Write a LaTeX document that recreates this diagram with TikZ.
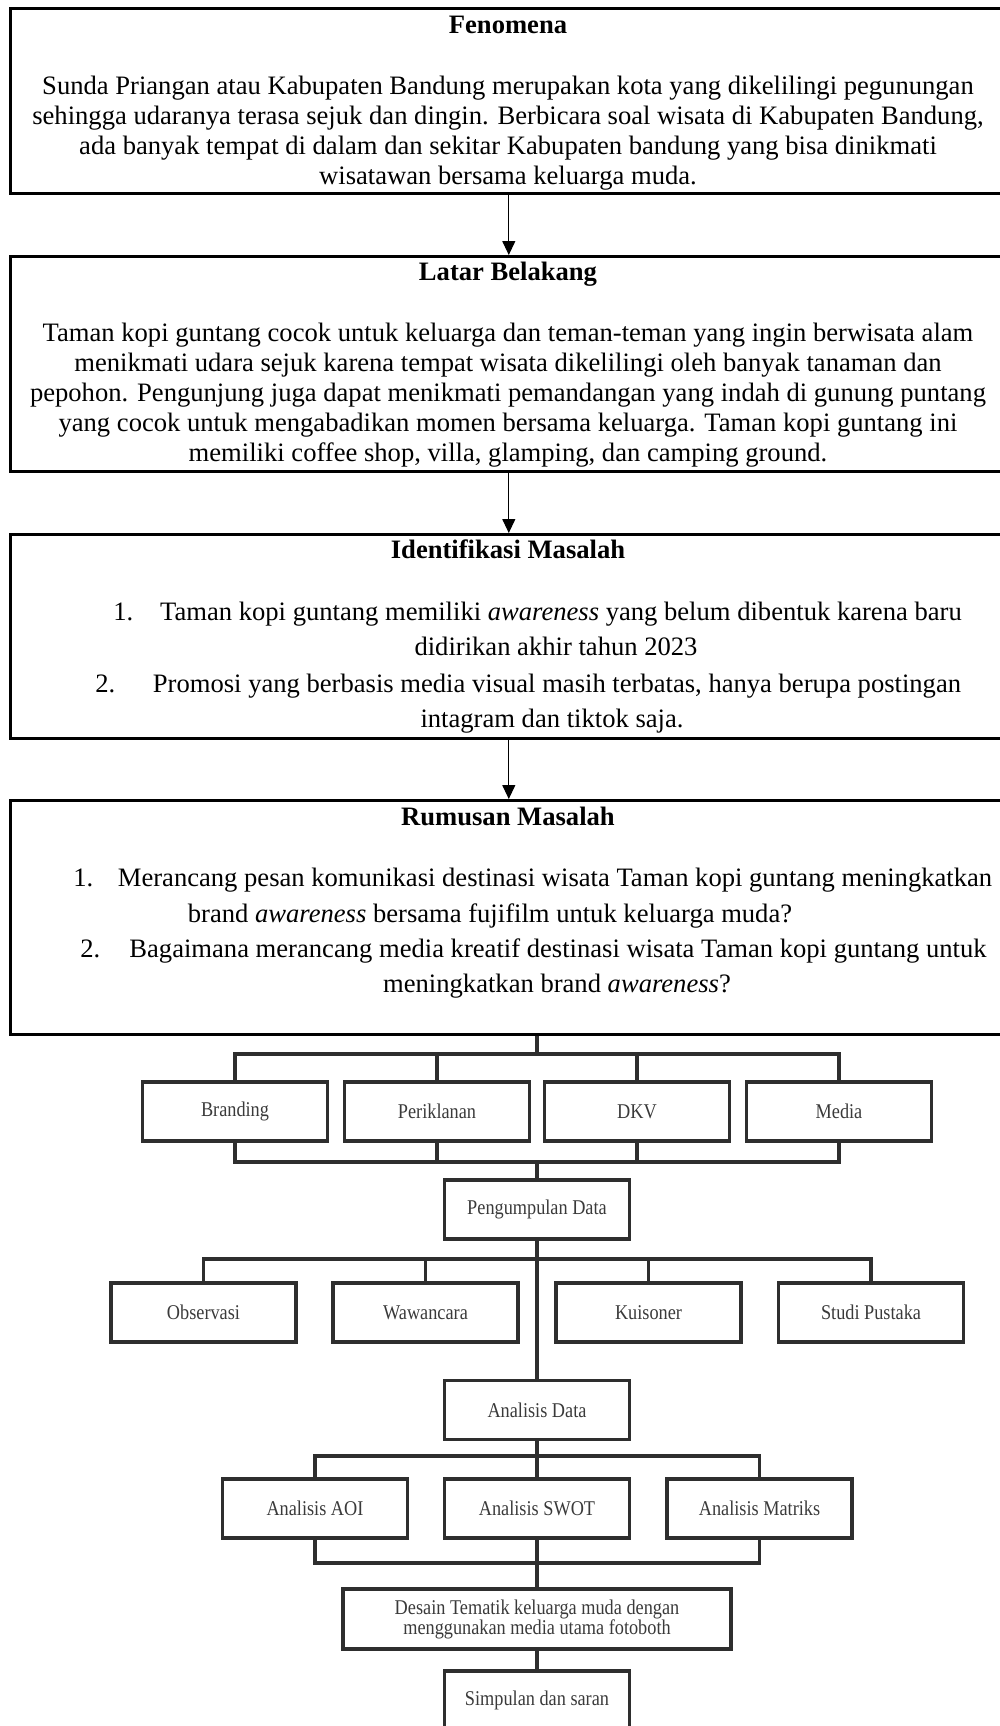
\documentclass[tikz,border=0pt]{standalone}
\usepackage{fontspec}
\setmainfont{Liberation Serif}
\newfontfamily\lowfont{Liberation Serif}[FakeStretch=0.87]
\usetikzlibrary{arrows.meta}
\definecolor{lgray}{HTML}{2E2E2E}
\definecolor{tgray}{HTML}{3A3A3A}
\begin{document}
\begin{tikzpicture}[x=0.5pt,y=-0.5pt,
  ubox/.style={draw,line width=1.3pt,minimum width=498.5pt,inner sep=0pt,anchor=north west},
  utxt/.style={inner sep=0pt,anchor=base,font=\fontsize{13.3}{16}\selectfont},
  utitle/.style={inner sep=0pt,anchor=base,font=\fontsize{13.3}{16}\selectfont\bfseries},
  unum/.style={inner sep=0pt,anchor=base west,font=\fontsize{13.3}{16}\selectfont},
  arr/.style={line width=0.55pt,-{Triangle[width=6.5pt,length=7pt]}},
  lbox/.style={draw=lgray,line width=1.6pt,minimum width=92.5pt,minimum height=29.5pt,inner sep=0pt,text=tgray,font=\lowfont\fontsize{10.5}{10}\selectfont},
  lline/.style={draw=lgray,line width=1.6pt}
]
\useasboundingbox (0,0) rectangle (1000,1726);
\clip (0,0) rectangle (1000,1726);

% ---------- upper boxes ----------
\node[ubox,minimum height=92.5pt] (fen) at (9,7) {};
\node[ubox,minimum height=107.5pt] (lat) at (9,255) {};
\node[ubox,minimum height=102pt] (idm) at (9,533) {};
\node[ubox,minimum height=117pt] (rum) at (9,799) {};

\draw[arr] (fen.south) -- (lat.north);
\draw[arr] (lat.south) -- (idm.north);
\draw[arr] (idm.south) -- (rum.north);

% Fenomena
\node[utitle] (fen-t) at (508,33) {Fenomena};
\node[utxt] (fen-1) at (508,94) {Sunda Priangan atau Kabupaten Bandung merupakan kota yang dikelilingi pegunungan};
\node[utxt] (fen-2) at (508,124) {sehingga udaranya terasa sejuk dan dingin. Berbicara soal wisata di Kabupaten Bandung,};
\node[utxt] (fen-3) at (508,154) {ada banyak tempat di dalam dan sekitar Kabupaten bandung yang bisa dinikmati};
\node[utxt] (fen-4) at (508,184) {wisatawan bersama keluarga muda.};

% Latar Belakang
\node[utitle] (lat-t) at (508,280) {Latar Belakang};
\node[utxt] (lat-1) at (508,341) {Taman kopi guntang cocok untuk keluarga dan teman-teman yang ingin berwisata alam};
\node[utxt] (lat-2) at (508,371) {menikmati udara sejuk karena tempat wisata dikelilingi oleh banyak tanaman dan};
\node[utxt] (lat-3) at (508,401) {pepohon. Pengunjung juga dapat menikmati pemandangan yang indah di gunung puntang};
\node[utxt] (lat-4) at (508,431) {yang cocok untuk mengabadikan momen bersama keluarga. Taman kopi guntang ini};
\node[utxt] (lat-5) at (508,461) {memiliki coffee shop, villa, glamping, dan camping ground.};

% Identifikasi Masalah
\node[utitle] (idm-t) at (508,558) {Identifikasi Masalah};
\node[unum] (idm-n1) at (113,620) {1.};
\node[utxt] (idm-1) at (561,620) {Taman kopi guntang memiliki \textit{awareness} yang belum dibentuk karena baru};
\node[utxt] (idm-2) at (556,655) {didirikan akhir tahun 2023};
\node[unum] (idm-n2) at (95,692) {2.};
\node[utxt] (idm-3) at (557,692) {Promosi yang berbasis media visual masih terbatas, hanya berupa postingan};
\node[utxt] (idm-4) at (552,727) {intagram dan tiktok saja.};

% Rumusan Masalah
\node[utitle] (rum-t) at (508,825) {Rumusan Masalah};
\node[unum] (rum-n1) at (73,886) {1.};
\node[utxt] (rum-1) at (555,886) {Merancang pesan komunikasi destinasi wisata Taman kopi guntang meningkatkan};
\node[utxt] (rum-2) at (490,922) {brand \textit{awareness} bersama fujifilm untuk keluarga muda?};
\node[unum] (rum-n2) at (80,957) {2.};
\node[utxt] (rum-3) at (558,957) {Bagaimana merancang media kreatif destinasi wisata Taman kopi guntang untuk};
\node[utxt] (rum-4) at (557,992) {meningkatkan brand \textit{awareness}?};

% ---------- lower chart ----------
\node[lbox] (brand) at (235,1111.5) {Branding};
\node[lbox] (peri) at (437,1111.5) {Periklanan};
\node[lbox] (dkv) at (637,1111.5) {DKV};
\node[lbox] (media) at (839,1111.5) {Media};
\node[lbox] (pd) at (537,1209.5) {Pengumpulan Data};
\node[lbox] (obs) at (203.5,1312.5) {Observasi};
\node[lbox] (waw) at (425.5,1312.5) {Wawancara};
\node[lbox] (kui) at (648.5,1312.5) {Kuisoner};
\node[lbox] (stu) at (871,1312.5) {Studi Pustaka};
\node[lbox] (ad) at (537,1410) {Analisis Data};
\node[lbox] (aoi) at (315,1508.5) {Analisis AOI};
\node[lbox] (swot) at (537,1508.5) {Analisis SWOT};
\node[lbox] (mat) at (759.5,1508.5) {Analisis Matriks};
\node[lbox,minimum width=194pt,minimum height=30pt,align=center] (des) at (537,1619) {Desain Tematik keluarga muda dengan\\menggunakan media utama fotoboth};
\node[lbox] (sim) at (537,1700.5) {Simpulan dan saran};

\coordinate (j1) at (537,1054);
\coordinate (j2) at (537,1162);
\coordinate (j3) at (537,1259);
\coordinate (j4) at (537,1456);
\coordinate (j5) at (537,1563);

\draw[lline] (rum.south -| j1) -- (j1);
\draw[lline] (brand.north) |- (j1) -| (media.north);
\draw[lline] (peri.north) -- (peri.north |- j1);
\draw[lline] (dkv.north) -- (dkv.north |- j1);
\draw[lline] (brand.south) |- (j2) -| (media.south);
\draw[lline] (peri.south) -- (peri.south |- j2);
\draw[lline] (dkv.south) -- (dkv.south |- j2);
\draw[lline] (j2) -- (pd.north);
\draw[lline] (pd.south) -- (ad.north);
\draw[lline] (obs.north) |- (j3) -| (stu.north);
\draw[lline] (waw.north) -- (waw.north |- j3);
\draw[lline] (kui.north) -- (kui.north |- j3);
\draw[lline] (ad.south) -- (swot.north);
\draw[lline] (aoi.north) |- (j4) -| (mat.north);
\draw[lline] (swot.south) -- (des.north);
\draw[lline] (aoi.south) |- (j5) -| (mat.south);
\draw[lline] (des.south) -- (sim.north);
\end{tikzpicture}
\end{document}
